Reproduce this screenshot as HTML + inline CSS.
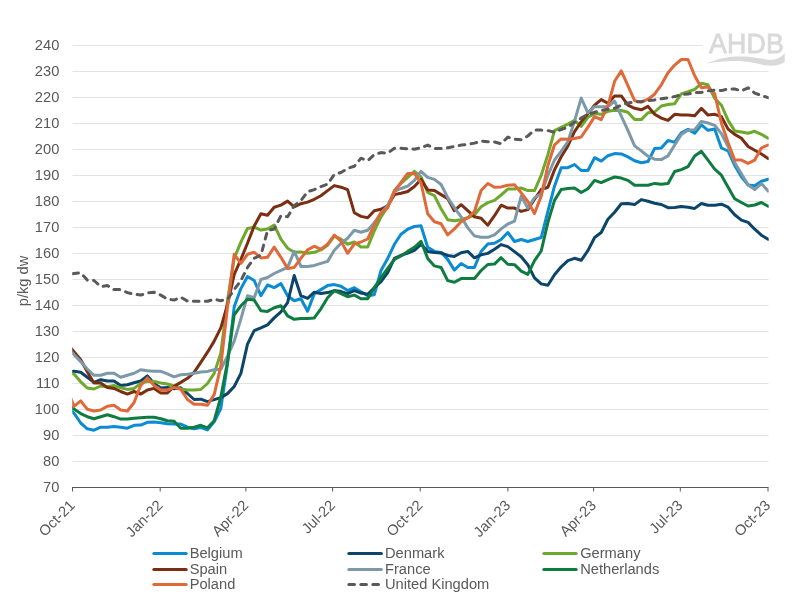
<!DOCTYPE html>
<html lang="en"><head><meta charset="utf-8"><title>EU deadweight prices</title>
<style>
html,body{margin:0;padding:0;background:#fff}
svg{display:block}
text{font-family:"Liberation Sans",Arial,sans-serif;font-size:14.67px;fill:#595959;letter-spacing:0}
.yl{text-anchor:end;letter-spacing:0}
.xl{text-anchor:end}
.s{fill:none;stroke-width:3;stroke-linejoin:round;stroke-linecap:round}
</style></head><body>
<svg width="793" height="596" viewBox="0 0 793 596">
<rect width="793" height="596" fill="#fff"/>
<defs><clipPath id="pc"><rect x="72.2" y="30" width="696.5" height="470"/></clipPath></defs>

<g stroke="#E3E3E3" stroke-width="1">
<line x1="72.5" y1="45.5" x2="768.5" y2="45.5"/>
<line x1="72.5" y1="71.5" x2="768.5" y2="71.5"/>
<line x1="72.5" y1="97.5" x2="768.5" y2="97.5"/>
<line x1="72.5" y1="123.5" x2="768.5" y2="123.5"/>
<line x1="72.5" y1="149.5" x2="768.5" y2="149.5"/>
<line x1="72.5" y1="175.5" x2="768.5" y2="175.5"/>
<line x1="72.5" y1="201.5" x2="768.5" y2="201.5"/>
<line x1="72.5" y1="227.5" x2="768.5" y2="227.5"/>
<line x1="72.5" y1="253.5" x2="768.5" y2="253.5"/>
<line x1="72.5" y1="279.5" x2="768.5" y2="279.5"/>
<line x1="72.5" y1="305.5" x2="768.5" y2="305.5"/>
<line x1="72.5" y1="331.5" x2="768.5" y2="331.5"/>
<line x1="72.5" y1="357.5" x2="768.5" y2="357.5"/>
<line x1="72.5" y1="383.5" x2="768.5" y2="383.5"/>
<line x1="72.5" y1="409.5" x2="768.5" y2="409.5"/>
<line x1="72.5" y1="435.5" x2="768.5" y2="435.5"/>
<line x1="72.5" y1="461.5" x2="768.5" y2="461.5"/>
</g>
<g class="yt">
<text class="yl" x="59.3" y="50.3">240</text>
<text class="yl" x="59.3" y="76.3">230</text>
<text class="yl" x="59.3" y="102.3">220</text>
<text class="yl" x="59.3" y="128.3">210</text>
<text class="yl" x="59.3" y="154.3">200</text>
<text class="yl" x="59.3" y="180.3">190</text>
<text class="yl" x="59.3" y="206.3">180</text>
<text class="yl" x="59.3" y="232.3">170</text>
<text class="yl" x="59.3" y="258.3">160</text>
<text class="yl" x="59.3" y="284.3">150</text>
<text class="yl" x="59.3" y="310.3">140</text>
<text class="yl" x="59.3" y="336.3">130</text>
<text class="yl" x="59.3" y="362.3">120</text>
<text class="yl" x="59.3" y="388.3">110</text>
<text class="yl" x="59.3" y="414.3">100</text>
<text class="yl" x="59.3" y="440.3">90</text>
<text class="yl" x="59.3" y="466.3">80</text>
<text class="yl" x="59.3" y="492.3">70</text>
</g>
<g stroke="#595959" stroke-width="1"><line x1="72" y1="487.5" x2="768.5" y2="487.5"/>
<line x1="72.5" y1="487.5" x2="72.5" y2="491.5"/>
<line x1="160.2" y1="487.5" x2="160.2" y2="491.5"/>
<line x1="245.9" y1="487.5" x2="245.9" y2="491.5"/>
<line x1="332.6" y1="487.5" x2="332.6" y2="491.5"/>
<line x1="420.2" y1="487.5" x2="420.2" y2="491.5"/>
<line x1="507.9" y1="487.5" x2="507.9" y2="491.5"/>
<line x1="593.6" y1="487.5" x2="593.6" y2="491.5"/>
<line x1="680.3" y1="487.5" x2="680.3" y2="491.5"/>
<line x1="768.0" y1="487.5" x2="768.0" y2="491.5"/>
</g>
<text class="xl" transform="translate(75.8 506.2) rotate(-45)">Oct-21</text>
<text class="xl" transform="translate(163.5 506.2) rotate(-45)">Jan-22</text>
<text class="xl" transform="translate(249.2 506.2) rotate(-45)">Apr-22</text>
<text class="xl" transform="translate(335.9 506.2) rotate(-45)">Jul-22</text>
<text class="xl" transform="translate(423.6 506.2) rotate(-45)">Oct-22</text>
<text class="xl" transform="translate(511.2 506.2) rotate(-45)">Jan-23</text>
<text class="xl" transform="translate(596.9 506.2) rotate(-45)">Apr-23</text>
<text class="xl" transform="translate(683.6 506.2) rotate(-45)">Jul-23</text>
<text class="xl" transform="translate(771.3 506.2) rotate(-45)">Oct-23</text>
<text transform="translate(27.7 281) rotate(-90)" text-anchor="middle">p/kg dw</text>
<g clip-path="url(#pc)">
<polyline class="s" stroke="#0A8BD2" points="67.3,406.5 74.0,413.2 80.7,423.0 87.3,428.8 94.0,430.2 100.7,427.2 107.4,427.2 114.0,426.4 120.7,427.2 127.4,428.2 134.1,425.3 140.7,425.1 147.4,422.3 154.1,422.1 160.8,422.7 167.4,423.7 174.1,424.1 180.8,424.1 187.5,427.2 194.1,428.8 200.8,427.5 207.5,429.9 214.2,421.8 220.8,408.5 227.5,364.0 234.2,306.8 240.9,288.6 247.5,276.5 254.2,280.5 260.9,295.7 267.5,285.0 274.2,287.6 280.9,283.6 287.6,295.7 294.2,300.7 300.9,298.7 307.6,311.2 314.3,293.6 320.9,289.6 327.6,285.6 334.3,284.6 341.0,286.2 347.6,290.6 354.3,287.7 361.0,291.7 367.7,295.8 374.3,294.7 381.0,270.5 387.7,258.4 394.4,244.3 401.0,234.2 407.7,229.2 414.4,226.5 421.0,225.7 427.7,247.3 434.4,251.4 441.1,252.4 447.7,259.4 454.4,270.1 461.1,263.5 467.8,267.5 474.4,267.5 481.1,251.4 487.8,243.9 494.5,243.3 501.1,239.5 507.8,232.5 514.5,241.5 521.2,239.5 527.8,241.5 534.5,239.5 541.2,237.5 547.9,211.4 554.5,186.2 561.2,167.7 567.9,167.7 574.5,164.5 581.2,170.5 587.9,170.5 594.6,157.7 601.2,161.1 607.9,155.7 614.6,153.6 621.3,153.9 627.9,156.9 634.6,160.7 641.3,162.7 648.0,161.5 654.6,148.6 661.3,148.0 668.0,140.4 674.7,142.4 681.3,132.9 688.0,129.4 694.7,133.3 701.4,124.8 708.0,130.3 714.7,129.1 721.4,148.0 728.1,151.0 734.7,165.4 741.4,176.7 748.1,185.1 754.7,185.8 761.4,181.3 768.1,179.3"/>
<polyline class="s" stroke="#0B4569" points="67.3,371.7 74.0,371.3 80.7,372.3 87.3,377.3 94.0,382.4 100.7,379.7 107.4,381.0 114.0,381.0 120.7,385.4 127.4,384.8 134.1,382.8 140.7,381.0 147.4,375.9 154.1,383.4 160.8,388.0 167.4,387.4 174.1,388.8 180.8,387.8 187.5,393.5 194.1,399.5 200.8,399.2 207.5,401.6 214.2,399.6 220.8,397.6 227.5,393.6 234.2,386.5 240.9,373.4 247.5,344.1 254.2,330.6 260.9,327.9 267.5,324.9 274.2,317.9 280.9,311.8 287.6,302.7 294.2,275.5 300.9,295.7 307.6,298.3 314.3,292.2 320.9,293.6 327.6,292.6 334.3,290.6 341.0,291.6 347.6,293.6 354.3,290.7 361.0,293.1 367.7,294.3 374.3,287.7 381.0,281.6 387.7,272.5 394.4,258.4 401.0,255.4 407.7,253.0 414.4,250.4 421.0,244.3 427.7,251.4 434.4,252.4 441.1,253.0 447.7,255.4 454.4,256.4 461.1,252.8 467.8,251.4 474.4,257.8 481.1,254.8 487.8,253.4 494.5,249.3 501.1,244.6 507.8,246.6 514.5,251.6 521.2,256.7 527.8,264.7 534.5,277.9 541.2,283.9 547.9,285.3 554.5,274.8 561.2,266.8 567.9,260.7 574.5,258.3 581.2,260.3 587.9,250.6 594.6,237.5 601.2,232.5 607.9,219.3 614.6,212.3 621.3,203.8 627.9,203.6 634.6,204.6 641.3,199.6 648.0,201.2 654.6,203.2 661.3,204.5 668.0,207.7 674.7,207.5 681.3,206.5 688.0,207.2 694.7,208.4 701.4,203.5 708.0,205.3 714.7,205.3 721.4,204.2 728.1,207.2 734.7,214.8 741.4,220.1 748.1,222.4 754.7,229.2 761.4,235.2 768.1,239.3"/>
<polyline class="s" stroke="#6DA92D" points="67.3,373.5 74.0,374.0 80.7,381.8 87.3,388.0 94.0,389.0 100.7,386.0 107.4,386.8 114.0,385.4 120.7,387.8 127.4,389.4 134.1,388.4 140.7,383.4 147.4,381.4 154.1,381.4 160.8,383.0 167.4,384.0 174.1,386.0 180.8,389.0 187.5,390.0 194.1,390.0 200.8,389.5 207.5,383.5 214.2,373.4 220.8,353.2 227.5,300.7 234.2,258.3 240.9,242.2 247.5,228.5 254.2,227.1 260.9,230.1 267.5,229.1 274.2,225.0 280.9,239.2 287.6,248.2 294.2,252.3 300.9,251.9 307.6,253.3 314.3,252.3 320.9,249.9 327.6,245.2 334.3,236.1 341.0,239.2 347.6,244.2 354.3,242.0 361.0,247.0 367.7,247.0 374.3,230.9 381.0,216.8 387.7,206.7 394.4,190.5 401.0,183.5 407.7,177.4 414.4,171.4 421.0,176.8 427.7,192.5 434.4,195.6 441.1,208.7 447.7,219.8 454.4,220.8 461.1,219.8 467.8,217.8 474.4,214.7 481.1,206.7 487.8,202.6 494.5,200.4 501.1,195.0 507.8,189.1 514.5,189.1 521.2,188.0 527.8,190.6 534.5,190.6 541.2,175.3 547.9,154.6 554.5,130.6 561.2,127.3 567.9,124.1 574.5,120.4 581.2,126.4 587.9,117.3 594.6,113.6 601.2,114.3 607.9,111.3 614.6,110.2 621.3,110.5 627.9,112.3 634.6,119.6 641.3,119.6 648.0,112.8 654.6,112.0 661.3,106.0 668.0,104.5 674.7,103.7 681.3,93.9 688.0,91.6 694.7,89.3 701.4,83.3 708.0,84.8 714.7,98.4 721.4,105.2 728.1,120.4 734.7,130.9 741.4,132.1 748.1,133.3 754.7,131.3 761.4,134.4 768.1,138.2"/>
<polyline class="s" stroke="#7A2E12" points="67.3,343.8 74.0,351.8 80.7,359.7 87.3,371.8 94.0,383.0 100.7,383.0 107.4,387.4 114.0,388.4 120.7,391.5 127.4,394.1 134.1,391.5 140.7,394.1 147.4,390.0 154.1,388.4 160.8,392.9 167.4,392.9 174.1,386.4 180.8,382.4 187.5,378.3 194.1,372.3 200.8,362.3 207.5,352.2 214.2,341.1 220.8,327.9 227.5,304.7 234.2,274.5 240.9,259.3 247.5,243.2 254.2,225.9 260.9,213.8 267.5,215.2 274.2,207.2 280.9,205.1 287.6,201.1 294.2,206.8 300.9,203.7 307.6,202.1 314.3,199.3 320.9,195.7 327.6,190.6 334.3,185.6 341.0,187.2 347.6,189.6 354.3,212.7 361.0,216.4 367.7,217.8 374.3,210.7 381.0,209.3 387.7,205.7 394.4,194.6 401.0,193.2 407.7,191.5 414.4,186.5 421.0,179.4 427.7,189.9 434.4,190.5 441.1,194.6 447.7,198.6 454.4,210.7 461.1,204.7 467.8,210.7 474.4,216.8 481.1,218.2 487.8,225.2 494.5,215.7 501.1,205.2 507.8,208.1 514.5,208.1 521.2,211.4 527.8,209.6 534.5,199.3 541.2,189.5 547.9,187.3 554.5,169.9 561.2,156.8 567.9,145.9 574.5,131.7 581.2,121.9 587.9,113.6 594.6,105.2 601.2,99.6 607.9,103.3 614.6,95.9 621.3,95.9 627.9,105.2 634.6,108.3 641.3,109.8 648.0,106.4 654.6,114.3 661.3,118.1 668.0,120.4 674.7,114.3 681.3,115.1 688.0,115.1 694.7,115.8 701.4,108.3 708.0,115.1 714.7,114.3 721.4,116.6 728.1,129.1 734.7,134.4 741.4,138.2 748.1,146.5 754.7,150.3 761.4,154.0 768.1,158.6"/>
<polyline class="s" stroke="#7B99A8" points="67.3,346.8 74.0,354.6 80.7,361.6 87.3,369.0 94.0,375.3 100.7,375.3 107.4,373.3 114.0,373.3 120.7,377.3 127.4,375.3 134.1,373.3 140.7,369.7 147.4,370.7 154.1,371.3 160.8,371.3 167.4,373.9 174.1,376.9 180.8,374.7 187.5,374.3 194.1,373.3 200.8,372.0 207.5,371.4 214.2,369.7 220.8,369.3 227.5,356.2 234.2,341.1 240.9,318.9 247.5,295.7 254.2,297.7 260.9,279.5 267.5,277.5 274.2,273.5 280.9,270.4 287.6,267.4 294.2,251.3 300.9,266.4 307.6,266.4 314.3,265.4 320.9,263.4 327.6,261.4 334.3,250.3 341.0,243.2 347.6,238.2 354.3,230.3 361.0,232.3 367.7,230.3 374.3,222.8 381.0,213.1 387.7,205.7 394.4,191.5 401.0,188.5 407.7,186.1 414.4,180.4 421.0,171.4 427.7,177.4 434.4,179.4 441.1,184.5 447.7,197.6 454.4,207.7 461.1,216.8 467.8,227.9 474.4,235.9 481.1,237.3 487.8,237.3 494.5,234.9 501.1,228.9 507.8,224.0 514.5,221.2 521.2,196.1 527.8,208.1 534.5,197.8 541.2,193.9 547.9,175.3 554.5,160.0 561.2,151.3 567.9,141.5 574.5,121.1 581.2,98.1 587.9,112.8 594.6,106.7 601.2,106.7 607.9,106.7 614.6,101.1 621.3,116.1 627.9,130.4 634.6,145.9 641.3,150.9 648.0,156.2 654.6,159.2 661.3,159.6 668.0,155.9 674.7,145.0 681.3,134.4 688.0,130.3 694.7,129.8 701.4,121.5 708.0,123.0 714.7,125.3 721.4,133.6 728.1,146.5 734.7,162.4 741.4,173.7 748.1,185.1 754.7,189.6 761.4,183.6 768.1,191.1"/>
<polyline class="s" stroke="#0E7C3F" points="67.3,404.2 74.0,409.1 80.7,413.6 87.3,416.7 94.0,418.7 100.7,416.7 107.4,414.7 114.0,416.7 120.7,419.1 127.4,419.1 134.1,418.3 140.7,417.7 147.4,417.3 154.1,417.3 160.8,418.7 167.4,420.7 174.1,421.3 180.8,428.2 187.5,428.2 194.1,427.2 200.8,425.3 207.5,427.8 214.2,420.7 220.8,397.0 227.5,362.0 234.2,314.8 240.9,305.8 247.5,299.3 254.2,300.1 260.9,310.8 267.5,311.4 274.2,307.8 280.9,305.8 287.6,315.8 294.2,319.3 300.9,318.5 307.6,318.5 314.3,317.9 320.9,308.8 327.6,297.7 334.3,290.6 341.0,293.6 347.6,296.7 354.3,295.1 361.0,298.8 367.7,298.8 374.3,287.7 381.0,277.6 387.7,268.5 394.4,259.4 401.0,256.0 407.7,251.4 414.4,247.3 421.0,241.3 427.7,258.4 434.4,265.9 441.1,267.5 447.7,280.6 454.4,282.2 461.1,278.6 467.8,278.6 474.4,278.6 481.1,270.5 487.8,264.5 494.5,264.1 501.1,257.7 507.8,264.3 514.5,264.7 521.2,271.2 527.8,274.4 534.5,260.7 541.2,251.0 547.9,222.4 554.5,200.4 561.2,189.5 567.9,188.4 574.5,187.9 581.2,192.5 587.9,188.7 594.6,180.4 601.2,182.6 607.9,179.6 614.6,177.0 621.3,178.1 627.9,180.4 634.6,185.2 641.3,185.2 648.0,185.2 654.6,183.4 661.3,184.3 668.0,183.6 674.7,171.5 681.3,169.6 688.0,166.6 694.7,156.0 701.4,151.3 708.0,160.1 714.7,169.2 721.4,175.2 728.1,187.3 734.7,198.7 741.4,202.5 748.1,206.0 754.7,205.0 761.4,202.5 768.1,206.3"/>
<polyline class="s" stroke="#E0693A" points="67.3,389.0 74.0,406.4 80.7,400.9 87.3,409.2 94.0,411.0 100.7,410.0 107.4,406.2 114.0,405.2 120.7,410.0 127.4,411.0 134.1,402.5 140.7,385.4 147.4,377.9 154.1,385.4 160.8,390.0 167.4,390.0 174.1,387.4 180.8,389.4 187.5,399.5 194.1,404.2 200.8,404.2 207.5,405.3 214.2,394.6 220.8,366.3 227.5,306.8 234.2,254.3 240.9,263.4 247.5,254.3 254.2,252.3 260.9,257.9 267.5,257.3 274.2,247.2 280.9,257.3 287.6,268.4 294.2,267.4 300.9,258.3 307.6,249.9 314.3,246.2 320.9,249.3 327.6,244.2 334.3,235.1 341.0,241.2 347.6,253.3 354.3,244.0 361.0,242.0 367.7,239.0 374.3,224.8 381.0,212.7 387.7,207.7 394.4,191.5 401.0,182.5 407.7,173.4 414.4,173.4 421.0,182.9 427.7,213.7 434.4,221.8 441.1,223.8 447.7,234.9 454.4,228.9 461.1,221.8 467.8,217.8 474.4,211.7 481.1,190.5 487.8,183.5 494.5,187.3 501.1,186.9 507.8,185.2 514.5,184.7 521.2,192.8 527.8,201.5 534.5,213.5 541.2,196.1 547.9,165.5 554.5,144.8 561.2,138.9 567.9,139.3 574.5,138.5 581.2,137.0 587.9,127.2 594.6,116.6 601.2,119.6 607.9,106.0 614.6,81.3 621.3,70.9 627.9,85.6 634.6,100.7 641.3,102.2 648.0,99.2 654.6,94.2 661.3,84.8 668.0,72.7 674.7,65.1 681.3,59.5 688.0,59.5 694.7,75.7 701.4,87.8 708.0,87.1 714.7,93.9 721.4,123.0 728.1,142.7 734.7,160.1 741.4,160.1 748.1,163.4 754.7,160.1 761.4,148.0 768.1,145.0"/>
<polyline class="s" stroke="#595959" stroke-dasharray="5.7 6.3" stroke-dashoffset="-5.5" points="67.3,274.5 74.0,273.5 80.7,272.9 87.3,280.1 94.0,280.5 100.7,286.6 107.4,285.6 114.0,289.6 120.7,289.6 127.4,292.6 134.1,294.2 140.7,295.1 147.4,293.0 154.1,292.2 160.8,295.1 167.4,299.1 174.1,300.1 180.8,297.3 187.5,301.1 194.1,301.3 200.8,301.3 207.5,301.3 214.2,299.3 220.8,300.7 227.5,299.3 234.2,289.6 240.9,280.5 247.5,267.4 254.2,258.3 260.9,255.3 267.5,230.6 274.2,229.0 280.9,215.8 287.6,216.8 294.2,205.8 300.9,200.7 307.6,191.6 314.3,189.6 320.9,186.6 327.6,184.2 334.3,174.5 341.0,172.5 347.6,168.4 354.3,166.3 361.0,158.2 367.7,160.7 374.3,154.6 381.0,152.6 387.7,153.2 394.4,148.2 401.0,148.2 407.7,148.8 414.4,149.2 421.0,147.8 427.7,145.1 434.4,148.6 441.1,148.6 447.7,147.8 454.4,146.5 461.1,145.1 467.8,144.5 474.4,143.1 481.1,141.1 487.8,141.7 494.5,141.9 501.1,143.7 507.8,137.1 514.5,139.3 521.2,139.7 527.8,136.0 534.5,130.1 541.2,130.1 547.9,130.6 554.5,132.3 561.2,129.5 567.9,127.2 574.5,122.3 581.2,118.1 587.9,114.3 594.6,112.3 601.2,110.5 607.9,109.3 614.6,108.3 621.3,105.2 627.9,103.0 634.6,101.9 641.3,101.5 648.0,100.7 654.6,99.9 661.3,98.7 668.0,97.7 674.7,96.6 681.3,94.6 688.0,93.9 694.7,92.7 701.4,92.4 708.0,90.9 714.7,90.1 721.4,90.6 728.1,89.0 734.7,89.0 741.4,90.9 748.1,87.8 754.7,93.1 761.4,95.4 768.1,97.7"/>
</g>
<line class="s" stroke="#0A8BD2" x1="153.8" y1="553.4" x2="186.2" y2="553.4"/>
<text x="189.7" y="558.1">Belgium</text>
<line class="s" stroke="#0B4569" x1="348.8" y1="553.4" x2="381.4" y2="553.4"/>
<text x="385.0" y="558.1">Denmark</text>
<line class="s" stroke="#6DA92D" x1="543.8" y1="553.4" x2="576.2" y2="553.4"/>
<text x="580.2" y="558.1">Germany</text>
<line class="s" stroke="#7A2E12" x1="153.8" y1="569.5" x2="186.2" y2="569.5"/>
<text x="189.7" y="574.2">Spain</text>
<line class="s" stroke="#7B99A8" x1="348.8" y1="569.5" x2="381.4" y2="569.5"/>
<text x="385.0" y="574.2">France</text>
<line class="s" stroke="#0E7C3F" x1="543.8" y1="569.5" x2="576.2" y2="569.5"/>
<text x="580.2" y="574.2">Netherlands</text>
<line class="s" stroke="#E0693A" x1="153.8" y1="584.4" x2="186.2" y2="584.4"/>
<text x="189.7" y="589.1">Poland</text>
<line class="s" stroke="#595959" stroke-dasharray="5.7 6.3" x1="348.8" y1="584.4" x2="381.4" y2="584.4"/>
<text x="385.0" y="589.1">United Kingdom</text>
<rect x="702.5" y="20" width="90.5" height="49" fill="#fff"/>
<text x="709.1" y="52.5" style="font-size:26.8px;fill:#D9D9D9;letter-spacing:0.1px;stroke:#D9D9D9;stroke-width:0.8px">AHDB</text>
<path fill="#D9D9D9" d="M707.0 63.3 C708.8 62.6 714.3 60.4 717.6 59.4 C720.9 58.4 724.1 57.9 727.0 57.4 C729.9 56.9 732.3 56.8 735.2 56.6 C738.1 56.5 741.7 56.4 744.6 56.5 C747.5 56.6 750.1 56.9 752.8 57.2 C755.5 57.6 758.5 58.2 761.0 58.6 C763.5 59.0 765.6 59.6 768.0 59.7 C770.4 59.8 773.0 59.7 775.1 59.2 C777.2 58.7 779.3 57.7 780.9 56.7 C782.5 55.7 784.1 53.8 784.7 53.2 L784.7 61.8 C784.1 62.2 782.5 63.5 780.9 64.1 C779.3 64.7 777.2 65.3 775.1 65.5 C773.0 65.7 770.4 65.7 768.0 65.5 C765.6 65.3 763.5 65.0 761.0 64.5 C758.5 64.0 755.5 63.3 752.8 62.8 C750.1 62.3 747.5 61.8 744.6 61.5 C741.7 61.2 738.1 61.0 735.2 61.0 C732.3 61.0 729.9 61.0 727.0 61.2 C724.1 61.4 720.9 61.7 717.6 62.1 C714.3 62.5 708.8 63.3 707.0 63.5 Z"/>
</svg></body></html>
